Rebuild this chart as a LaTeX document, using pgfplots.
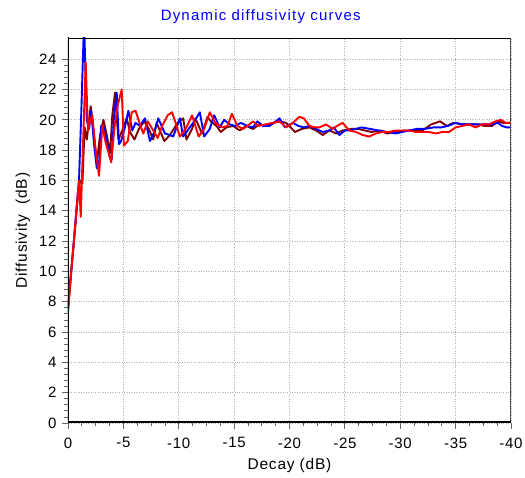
\documentclass[border=0pt]{standalone}
\usepackage{pgfplots}
\pgfplotsset{compat=1.18}
\usepackage{fontspec}
\setmainfont{Liberation Sans}
\definecolor{darkred}{RGB}{128,0,0}

\begin{document}
\begin{tikzpicture}[x=1pt,y=1pt]
\path[use as bounding box] (-68,-55) rectangle (457,423);
\begin{axis}[
    at={(0,0)}, anchor=south west,
    scale only axis,
    width=443pt, height=385pt,
    x dir=reverse,
    xmin=-40, xmax=0,
    ymin=0, ymax=25.4,
    xtick={-40,-35,...,0},
    ytick={0,2,...,24},
    minor x tick num=3,
    minor y tick num=4,
    tick align=outside,
    major tick length=6pt,
    minor tick length=3.5pt,
    tick style={gray!80!black, line width=0.8pt},
    xtick pos=bottom, ytick pos=left,
    grid=major,
    major grid style={gray!60, dotted, line width=0.8pt},
    axis line style={draw=none},
    /pgf/number format/assume math mode=true,
    ticklabel style={font=\fontsize{15}{17}\selectfont\addfontfeature{LetterSpace=5}},
    xticklabel style={yshift=-5pt},
    yticklabel style={xshift=-2pt},
    xlabel={Decay (dB)},
    ylabel={Diffusivity\ \ (dB)},
    label style={font=\fontsize{15.5}{17}\selectfont\addfontfeature{LetterSpace=5}},
    xlabel style={yshift=-3pt},
    ylabel style={yshift=2pt},
    title={Dynamic diffusivity curves},
    title style={font=\fontsize{15}{17}\selectfont\addfontfeature{LetterSpace=8}, text=blue, at={(0.435,1)}, yshift=5pt},
    every axis plot/.append style={line width=1.9pt, line join=round},
]
\addplot[darkred] coordinates {
(0,7.6) (-0.3,10.2) (-0.6,12.5) (-0.9,15.0) (-1.1,16.0) (-1.3,15.8) (-1.5,19.5)
(-1.7,18.7) (-2.05,20.9) (-2.3,19.2) (-2.6,17.2) (-2.9,19.0) (-3.2,20.0) (-3.5,19.0)
(-3.8,17.8) (-4.0,20.3) (-4.25,21.8) (-4.55,18.7) (-4.9,19.3) (-5.3,20.1) (-5.6,19.2)
(-6.0,18.7) (-6.4,19.4) (-6.9,19.9) (-7.3,19.4) (-7.7,18.7) (-8.0,19.8) (-8.7,18.6)
(-9.2,19.0) (-9.9,19.8) (-10.4,20.1) (-10.7,18.7) (-11.2,19.4) (-11.5,20.1) (-12.1,19.1)
(-12.6,20.2) (-12.9,19.9) (-13.4,19.6) (-13.8,19.2) (-14.3,19.5) (-14.9,19.6) (-15.5,19.3)
(-16.1,19.6) (-16.7,19.4) (-17.3,19.7) (-17.8,19.6) (-18.5,19.8) (-19.1,19.9) (-19.7,19.8)
(-20.5,19.2) (-21.1,19.4) (-21.8,19.5) (-22.4,19.3) (-23.0,19.0) (-23.6,19.3) (-24.2,19.1)
(-24.8,19.3) (-25.6,19.4) (-26.2,19.4) (-26.8,19.3) (-27.4,19.2) (-28.2,19.3) (-28.8,19.1)
(-29.6,19.2) (-30.4,19.3) (-31.2,19.3) (-32.0,19.3) (-32.8,19.7) (-33.6,19.9) (-34.2,19.6)
(-34.8,19.8) (-35.6,19.7) (-36.4,19.7) (-37.0,19.7) (-37.6,19.6) (-38.3,19.6) (-38.8,19.9)
(-39.3,19.8) (-40,19.8)
};
\addplot[blue] coordinates {
(0,7.5) (-0.25,9.6) (-0.5,11.7) (-0.75,14.0) (-1.0,16.1) (-1.2,20.5) (-1.45,26.5)
(-1.7,20.0) (-1.9,19.4) (-2.1,20.6) (-2.35,18.4) (-2.6,16.8) (-2.8,17.1) (-3.0,19.6)
(-3.25,19.5) (-3.5,18.6) (-3.75,17.6) (-3.95,17.4) (-4.15,20.2) (-4.4,21.8) (-4.6,18.4)
(-4.8,18.6) (-5.1,19.4) (-5.45,20.6) (-5.8,19.3) (-6.1,19.8) (-6.5,19.6) (-6.95,20.1)
(-7.4,18.6) (-7.8,19.2) (-8.15,20.1) (-8.75,19.1) (-9.2,19.0) (-9.5,18.9) (-10.1,20.1)
(-10.4,18.9) (-10.9,19.4) (-11.5,20.0) (-11.9,20.5) (-12.3,18.9) (-12.8,19.4) (-13.2,20.3)
(-13.7,19.5) (-14.1,20.0) (-14.6,19.7) (-15.1,19.6) (-15.6,19.8) (-16.2,19.6) (-16.7,19.5)
(-17.1,19.9) (-17.6,19.6) (-18.2,19.6) (-18.6,19.8) (-19.1,20.1) (-19.6,19.5) (-20.3,19.8)
(-20.8,19.6) (-21.3,19.5) (-21.8,19.6) (-22.4,19.4) (-23.0,19.2) (-23.6,19.3) (-24.0,19.5)
(-24.5,19.0) (-25.0,19.3) (-25.4,19.3) (-26.0,19.4) (-26.5,19.5) (-27.3,19.4) (-28.0,19.3)
(-28.8,19.2) (-29.6,19.1) (-30.2,19.2) (-30.8,19.3) (-31.5,19.4) (-32.2,19.4) (-33.0,19.5)
(-33.7,19.5) (-34.3,19.6) (-35.0,19.8) (-35.6,19.7) (-36.3,19.7) (-37.0,19.7) (-37.6,19.7)
(-38.3,19.7) (-38.8,19.8) (-39.2,19.6) (-39.6,19.5) (-40,19.5)
};
\addplot[red] coordinates {
(0,7.3) (-0.3,10.0) (-0.6,12.6) (-0.85,14.8) (-1.0,16.0) (-1.15,13.6) (-1.35,18.2)
(-1.6,23.8) (-1.8,19.3) (-2.0,20.0) (-2.2,20.3) (-2.5,18.0) (-2.8,16.3) (-3.1,19.6)
(-3.4,18.5) (-3.9,17.2) (-4.2,19.5) (-4.5,21.0) (-4.85,22.0) (-5.05,18.3) (-5.4,18.6)
(-5.75,20.5) (-6.1,20.6) (-6.5,19.7) (-6.8,19.1) (-7.2,19.9) (-7.7,19.3) (-8.1,18.8)
(-8.5,19.6) (-9.0,20.3) (-9.4,20.5) (-9.8,19.6) (-10.1,18.9) (-10.7,19.5) (-11.2,20.3)
(-11.8,18.9) (-12.3,19.4) (-12.8,20.5) (-13.3,19.8) (-13.9,19.5) (-14.4,19.6) (-14.8,20.4)
(-15.3,19.6) (-15.8,19.4) (-16.2,19.6) (-16.7,19.9) (-17.2,19.6) (-17.8,19.7) (-18.5,19.8)
(-19.1,19.9) (-19.7,19.5) (-20.3,19.8) (-20.9,20.2) (-21.3,20.1) (-21.8,19.6) (-22.3,19.5)
(-22.7,19.5) (-23.3,19.7) (-23.9,19.4) (-24.3,19.6) (-24.8,19.8) (-25.4,19.3) (-26.0,19.2)
(-26.6,19.0) (-27.2,18.9) (-27.8,19.1) (-28.4,19.2) (-29.0,19.2) (-29.6,19.3) (-30.2,19.3)
(-30.8,19.3) (-31.4,19.2) (-32.0,19.2) (-32.6,19.2) (-33.2,19.1) (-33.8,19.2) (-34.4,19.2)
(-35.0,19.5) (-35.6,19.6) (-36.2,19.7) (-36.8,19.5) (-37.4,19.7) (-38.0,19.7) (-38.6,19.9)
(-39.1,20.0) (-39.5,19.8) (-40,19.8)
};
\draw[black, line width=0.8pt] (rel axis cs:0,1) -- (rel axis cs:1,1);
\draw[gray!60!black, line width=2.5pt] (rel axis cs:1,0) -- (rel axis cs:1,1);
\draw[black, line width=3pt, line cap=rect] (rel axis cs:0,1) -- (rel axis cs:0,0) -- (rel axis cs:1,0);
\end{axis}
\end{tikzpicture}
\end{document}
